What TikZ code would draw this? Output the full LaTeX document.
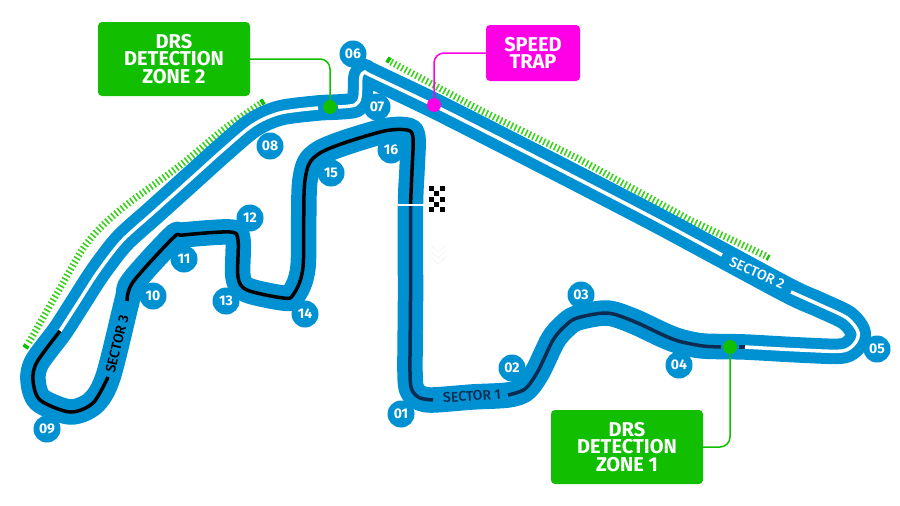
\documentclass[tikz,border=0pt]{standalone}
\usepackage{fontspec}
\setmainfont{Fira Sans}
\newfontfamily\sectorfont{Fira Sans Medium}
\definecolor{trackblue}{HTML}{0091D2}
\definecolor{zonegreen}{HTML}{12BE00}
\definecolor{hatchgreen}{HTML}{3CD020}
\definecolor{trapmagenta}{HTML}{FF00E6}
\definecolor{sectornavy}{HTML}{0B2B50}
\tikzset{
	turnnode/.style={circle,fill=trackblue,text=white,inner sep=0pt,minimum size=27,font=\bfseries\fontsize{14}{14}\selectfont},
	zonebox/.style={rounded corners=4,fill=#1,text=white,align=center,inner sep=0pt,font=\bfseries\fontsize{20}{17.7}\selectfont},
	sectorlabel/.style={inner sep=0pt,font=\sectorfont\fontsize{14}{14}\selectfont},
	dotnode/.style={circle,fill=#1,inner sep=0pt,minimum size=14},
	hatchline/.style={hatchgreen,line width=7,dash pattern=on 1.6 off 2.4},
	inner/.style={line width=3.5,line join=round}
}
\begin{document}
\begin{tikzpicture}[x=1pt,y=-1pt]
\useasboundingbox (0,0) rectangle (900,506);
% drs zones
\draw[hatchline] plot[smooth,tension=0.55] coordinates {(260,104) (223,130) (178,167) (120,210) (87,243) (59,290) (28,344)};
\draw[hatchline] (391,62) -- (480,110) -- (577,158) -- (690,220) -- (766,256);
\draw[zonegreen,line width=6] (264,101) -- (261,103);
\draw[zonegreen,line width=6] (25,348) -- (27,345);
\draw[zonegreen,line width=6] (387,59) -- (390,61);
\draw[zonegreen,line width=6] (769,258) -- (767,257);
% track
\draw[trackblue,line width=25.5,line join=round] plot[smooth cycle,tension=0.5] coordinates {
	(410.5,205) (410.5,300) (410,372) (412,390) (420,398) (433,400) (472,397) (508,395) (525,389) (538,371) (553,340) (565,326) (577,318) (607,313) (633,321) (663,335) (680,341.5) (703,346) (745,347) (800,350) (842,351) (855,343) (858,332) (847,318) (820,305) (791,292) (722,255) (657,220) (580,180) (506,142) (433,105) (370,75) (365,72) (361,77) (360,97) (355,105) (338,107) (318,108) (280,113) (253,125) (223,150) (193,177) (153,213) (122,241) (98,272) (78,303) (60,331) (37,362) (33,380) (40,400) (70,412) (93,403) (108,377) (127,301) (133,282) (173,238) (183,235) (230,232) (238,240) (238,277) (247,290) (283,298) (293,295) (303,267) (305,180) (320,153) (380,132) (407,130) (413,138) (412,170)};
% sector 1
\draw[sectornavy,inner] plot[smooth,tension=0.5] coordinates {(410.5,205) (410.5,300) (410,372) (412,390) (420,398) (433,400)};
\draw[sectornavy,inner] plot[smooth,tension=0.5] coordinates {(508,395) (525,389) (538,371) (553,340) (565,326) (577,318) (607,313) (633,321) (663,335) (680,341.5) (703,346) (721,347)};
\draw[sectornavy,inner] (739,347) -- (745,347);
% sector 2
\draw[white,inner] plot[smooth,tension=0.5] coordinates {(745,347) (800,350) (842,351) (855,343) (858,332) (847,318) (820,305) (791,292)};
\draw[white,inner] plot[smooth,tension=0.5] coordinates {(722,255) (657,220) (580,180) (506,142) (433,105) (370,75) (365,72) (361,77) (360,97) (355,105) (338,107)};
\draw[white,inner] plot[smooth,tension=0.5] coordinates {(318,108) (280,113) (253,125) (223,150) (193,177) (153,213) (122,241) (98,272) (78,303) (60,331)};
% sector 3
\draw[black,inner] plot[smooth,tension=0.5] coordinates {(60,331) (37,362) (33,380) (40,400) (70,412) (93,403) (108,377)};
\draw[black,inner] plot[smooth,tension=0.5] coordinates {(127,301) (133,282) (173,238) (183,235) (230,232) (238,240) (238,277) (247,290) (283,298) (293,295) (303,267) (305,180) (320,153) (380,132) (407,130) (413,138) (412,170) (410.5,205)};
% start line and flag
\draw[white,line width=1.2] (398,205) -- (424,205);
\foreach \c/\r in {0/0,2/0,1/1,0/2,2/2,1/3,0/4,2/4}{
	\fill[black] ({429+\c*5.4},{186+\r*5.3}) rectangle ++(5,4.9);}
% faint chevrons under the flag
\foreach \k in {0,1,2}{
	\draw[black!4,line width=0.8] (431,{245+\k*6}) -- (438,{252+\k*6}) -- (446,{245+\k*6});}
\node[sectorlabel,text=sectornavy,rotate=4] (labelone) at (472,396) {SECTOR 1};
\node[sectorlabel,text=white,rotate=-24] (labeltwo) at (757,273) {SECTOR 2};
\node[sectorlabel,text=black,rotate=76] (labelthree) at (117,344) {SECTOR 3};
% corners
\foreach \n/\px/\py in {01/401/414,02/512/368,03/581/295,04/679/365,05/877/349,06/353/54,07/377/107,08/270/146,09/47/429,10/153/296,11/184/259,12/250/218,13/226/301,14/305/314,15/331/173,16/391/150}{
	\node[turnnode] (turn\n) at (\px,\py) {\n};}
% callouts
\node[zonebox=zonegreen,minimum width=152,minimum height=74] (zonetwo) at (174,59) {DRS\\DETECTION\\ZONE 2};
\node[zonebox=zonegreen,minimum width=152,minimum height=74] (zoneone) at (627,447) {DRS\\DETECTION\\ZONE 1};
\node[zonebox=trapmagenta,minimum width=94,minimum height=56] (traplabel) at (533,53) {SPEED\\TRAP};
\node[dotnode=zonegreen] (dottwo) at (330,107) {};
\node[dotnode=zonegreen] (dotone) at (730,347) {};
\node[dotnode=trapmagenta] (dottrap) at (434,105) {};
\draw[zonegreen,line width=1.5,rounded corners=10] (zonetwo.east) -| (dottwo);
\draw[zonegreen,line width=1.5,rounded corners=10] (zoneone.east) -| (dotone);
\draw[trapmagenta,line width=1.5,rounded corners=10] (traplabel.west) -| (dottrap);
\end{tikzpicture}
\end{document}
